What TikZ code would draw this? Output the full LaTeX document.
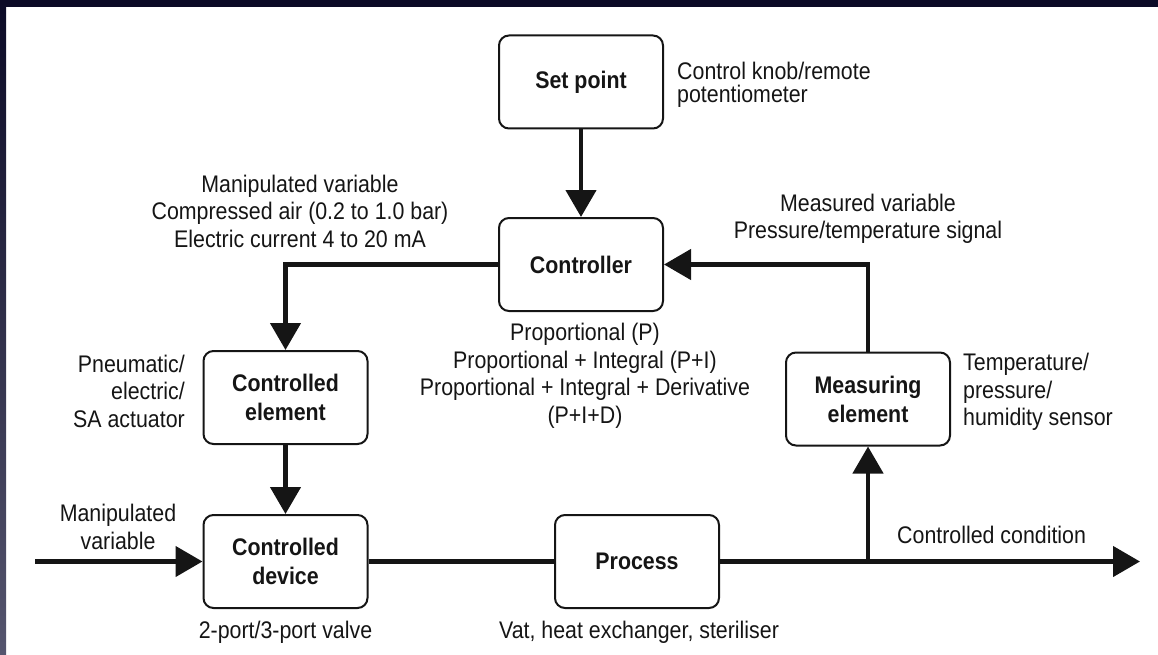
\documentclass[tikz,border=0pt]{standalone}
\usepackage{fontspec}
\setmainfont{Liberation Sans}[FakeStretch=0.89]
\usetikzlibrary{arrows.meta}

\definecolor{frame}{HTML}{0B0A26}
\definecolor{framelow}{HTML}{55556E}
\definecolor{ink}{HTML}{151515}

\begin{document}
\begin{tikzpicture}[x=1pt,y=-1pt,
  every node/.style={text=ink, inner sep=0pt},
  block/.style={draw=ink, line width=2pt, rounded corners=10pt,
    minimum width=164pt, minimum height=93pt, align=center,
    font=\fontsize{24}{29}\selectfont\bfseries},
  note/.style={font=\fontsize{24}{27.5}\selectfont},
  link/.style={draw=ink, line width=4.5pt},
  flow/.style={link, -{Triangle[length=27pt,width=30pt]}}]

\useasboundingbox (0,0) rectangle (1158,655);

% dark frame along the top and left edges
\fill[frame] (0,0) rectangle (1158,7);
\shade[top color=frame, bottom color=framelow] (0,0) rectangle (6,655);

% blocks of the control loop
\node[block] (sp)  at (581,82)      {Set point};
\node[block] (ctl) at (581,264.5)   {Controller};
\node[block] (ce)  at (285.5,397.5) {Controlled\\element};
\node[block] (cd)  at (285.5,561.5) {Controlled\\device};
\node[block] (pr)  at (637,561.5)   {Process};
\node[block] (me)  at (868,399)     {Measuring\\element};

% free ends of the main line and the branch point
\coordinate (src)  at (35,561.5);
\coordinate (sink) at (1140,561.5);
\coordinate (tap)  at (868,561.5);

% connectors
\draw[flow] (sp) -- (ctl);
\draw[flow] (ctl.west) -| (ce.north);
\draw[flow] (ce) -- (cd);
\draw[flow] (src) -- (cd.west);
\draw[link] (cd.east) -- (pr.west);
\draw[flow] (pr.east) -- (sink);
\draw[flow] (tap) -- (me.south);
\draw[flow] (me.north) |- (ctl.east);

% annotations
\node[note, anchor=west, align=left, font=\fontsize{24}{22.5}\selectfont] (knob) at (677,85)
  {Control knob/remote\\potentiometer};
\node[note, align=center] (mv) at (300,211)
  {Manipulated variable\\Compressed air (0.2 to 1.0 bar)\\Electric current 4 to 20 mA};
\node[note, align=center] (meas) at (868,219)
  {Measured variable\\Pressure/temperature signal};
\node[note, align=right, anchor=east] (act) at (185,391)
  {Pneumatic/\\electric/\\SA actuator};
\node[note, align=center] (modes) at (585,376)
  {Proportional (P)\\Proportional + Integral (P+I)\\Proportional + Integral + Derivative\\(P+I+D)};
\node[note, align=left, anchor=west] (sensor) at (963,392)
  {Temperature/\\pressure/\\humidity sensor};
\node[note, align=center] (mvin) at (118,527) {Manipulated\\variable};
\node[note, anchor=west] (cc) at (897,535) {Controlled condition};
\node[note] (valve) at (285.5,632) {2-port/3-port valve};
\node[note] (vat) at (639,632) {Vat, heat exchanger, steriliser};
\end{tikzpicture}
\end{document}
